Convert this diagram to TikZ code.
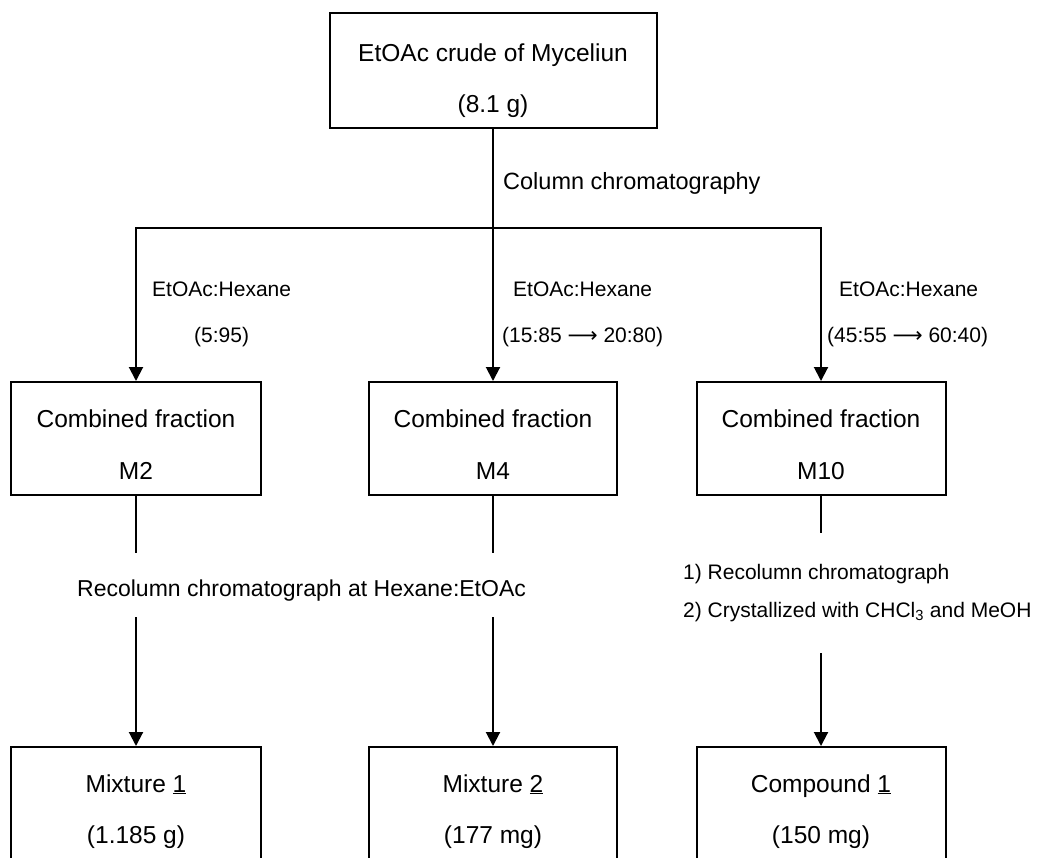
\documentclass[tikz,border=0pt]{standalone}
\usepackage{fontspec}
\setmainfont{Liberation Sans}
\newfontfamily\arrowfont{DejaVu Sans}
\usetikzlibrary{arrows.meta}
\newcommand{\longarr}{{\arrowfont\char"27F6}}
\begin{document}
\begin{tikzpicture}[x=1pt,y=-1pt,
  box/.style={draw,line width=2pt,inner sep=0pt,minimum height=113pt},
  big/.style={font=\fontsize{24.5}{29}\selectfont,anchor=base,inner sep=0pt},
  lab/.style={font=\fontsize{21}{25}\selectfont,anchor=base west,inner sep=0pt},
  ln/.style={line width=2pt},
  tip/.tip={Triangle[width=14pt,length=14pt]},
  arr/.style={line width=2pt,-tip}]
\useasboundingbox (0,0) rectangle (1040,857);
\clip (0,0) rectangle (1040,857);
% top box
\node[box,minimum width=327pt,minimum height=115pt] (crude) at (493,70.5) {};
\node[big] (crudeA) at (493,61) {EtOAc crude of Myceliun};
\node[big] (crudeB) at (493,112) {(8.1 g)};
% middle boxes
\node[box,minimum width=250pt] (m2) at (136,438.5) {};
\node[big] (m2a) at (136,427) {Combined fraction};
\node[big] (m2b) at (136,479) {M2};
\node[box,minimum width=248pt] (m4) at (493,438.5) {};
\node[big] (m4a) at (493,427) {Combined fraction};
\node[big] (m4b) at (493,479) {M4};
\node[box,minimum width=249pt] (m10) at (821,438.5) {};
\node[big] (m10a) at (821,427) {Combined fraction};
\node[big] (m10b) at (821,479) {M10};
% bottom boxes
\node[box,minimum width=250pt] (mix1) at (136,803.5) {};
\node[big] (mix1a) at (136,792) {Mixture \underline{1}};
\node[big] (mix1b) at (136,843) {(1.185 g)};
\node[box,minimum width=248pt] (mix2) at (493,803.5) {};
\node[big] (mix2a) at (493,792) {Mixture \underline{2}};
\node[big] (mix2b) at (493,843) {(177 mg)};
\node[box,minimum width=249pt] (cmp) at (821,803.5) {};
\node[big] (cmpa) at (821,792) {Compound \underline{1}};
\node[big] (cmpb) at (821,843) {(150 mg)};
% first split
\coordinate (hl) at (136,228);
\coordinate (hr) at (821,228);
\draw[ln,tip-tip] (m2.north) -- (hl) -- (hr) -- (m10.north);
\draw[arr] (crude.south) -- (m4.north);
\node[lab,font=\fontsize{23.5}{28}\selectfont] (cc) at (503,189) {Column chromatography};
\node[lab] (e1) at (152,296) {EtOAc:Hexane};
\node[lab] (r1) at (194,342) {(5:95)};
\node[lab] (e2) at (513,296) {EtOAc:Hexane};
\node[lab] (r2) at (502,342) {(15:85 \longarr{} 20:80)};
\node[lab] (e3) at (839,296) {EtOAc:Hexane};
\node[lab] (r3) at (827,342) {(45:55 \longarr{} 60:40)};
% second stage
\coordinate (g1a) at (136,553); \coordinate (g1b) at (136,617);
\coordinate (g2a) at (493,553); \coordinate (g2b) at (493,617);
\coordinate (g3a) at (821,533); \coordinate (g3b) at (821,653);
\draw[ln] (m2.south) -- (g1a);
\draw[arr] (g1b) -- (mix1.north);
\draw[ln] (m4.south) -- (g2a);
\draw[arr] (g2b) -- (mix2.north);
\draw[ln] (m10.south) -- (g3a);
\draw[arr] (g3b) -- (cmp.north);
\node[lab,font=\fontsize{23}{28}\selectfont] (rc) at (77,596) {Recolumn chromatograph at Hexane:EtOAc};
\node[lab] (s1) at (683,579) {1) Recolumn chromatograph};
\node[lab] (s2) at (683,617) {2) Crystallized with CHCl\textsubscript{3} and MeOH};
\end{tikzpicture}
\end{document}
